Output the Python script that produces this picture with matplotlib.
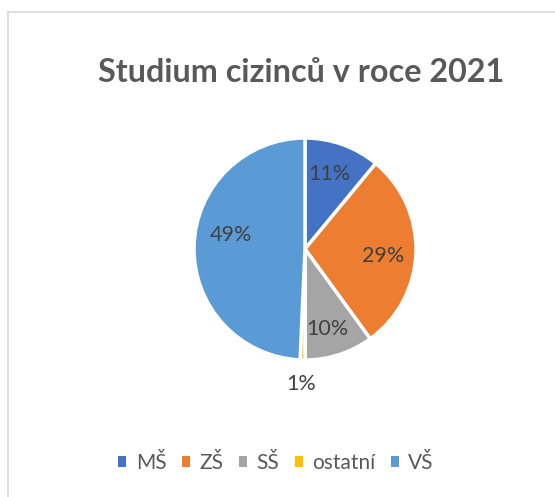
import matplotlib
matplotlib.use("Agg")
import matplotlib.pyplot as plt
from matplotlib.lines import Line2D
from matplotlib.patches import Patch

categories = ["MŠ", "ZŠ", "SŠ", "ostatní", "VŠ"]
values = [11, 29, 10, 0.7, 49.3]
colors = ["#4472C4", "#ED7D31", "#A5A5A5", "#FFC000", "#5B9BD5"]
title = "Studium cizinců v roce 2021"
# data-label positions (fraction of radius), as placed in the original
label_pos = [(0.22, 0.68), (0.70, -0.06), (0.20, -0.72), (-0.03, -1.22), (-0.67, 0.13)]

plt.rcParams['font.family'] = ['Lato', 'DejaVu Sans']

W, H = 555, 497
fig = plt.figure(figsize=(W/100, H/100), dpi=100)

# border lines (top and left only visible)
fig.add_artist(Line2D([8/W, 8/W], [0, 1-12/H], color="#d9d9d9", lw=1.2))
fig.add_artist(Line2D([8/W, 1], [1-12/H, 1-12/H], color="#d9d9d9", lw=1.2))

fig.text(301/W, 1-73/H, title, ha="center", va="center", fontsize=23.3,
         fontweight="bold", color="#595959")

cx, cy, r = 305, 249, 111
ax = fig.add_axes([(cx-r)/W, 1-(cy+r)/H, 2*r/W, 2*r/H])
wedges, texts, autotexts = ax.pie(values, colors=colors, startangle=90, counterclock=False,
                                  autopct='%.0f%%', pctdistance=0.7,
                                  wedgeprops=dict(edgecolor="white", linewidth=2.5),
                                  textprops=dict(fontsize=15.5, color="#404040"))
for t, p in zip(autotexts, label_pos):
    t.set_position(p)
ax.set_xlim(-1, 1)
ax.set_ylim(-1, 1)
ax.set_aspect("equal")
ax.axis("off")

handles = [Patch(facecolor=c, edgecolor="none") for c in colors]
fig.legend(handles, categories, loc="center", bbox_to_anchor=(276/W, 1-463/H), ncol=5,
           frameon=False, fontsize=15, labelcolor="#595959", handlelength=0.38,
           handleheight=0.38, handletextpad=0.45, columnspacing=0.75)

fig.savefig("out.png", dpi=100)
